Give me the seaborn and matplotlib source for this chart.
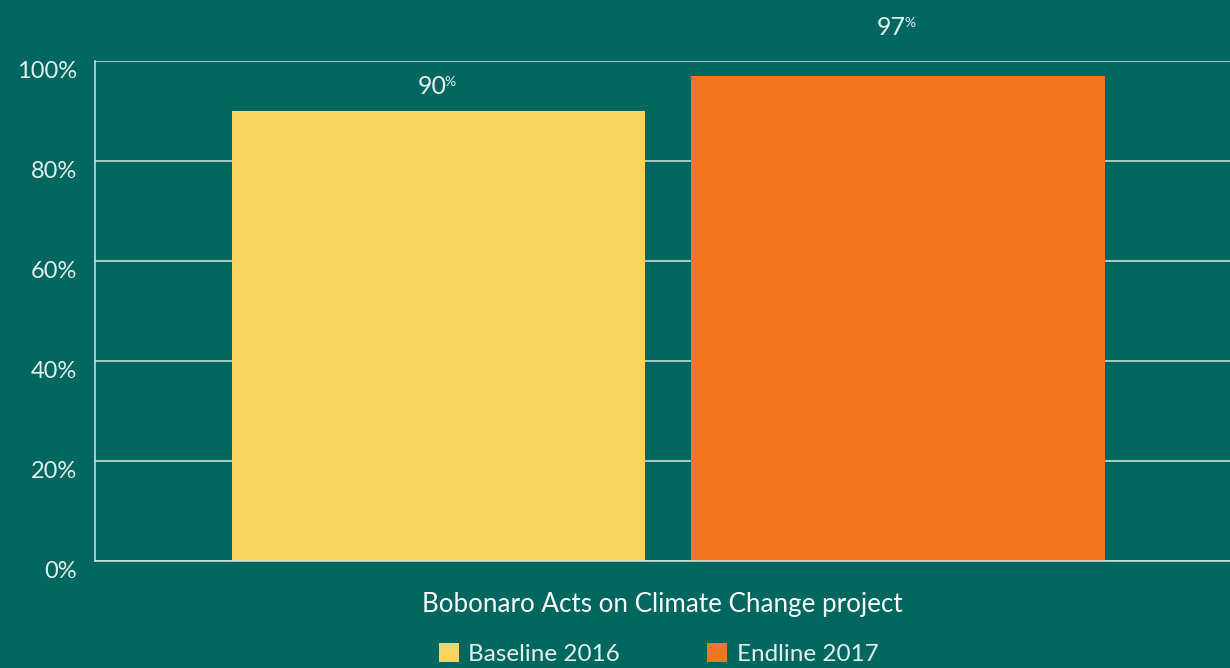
import matplotlib
matplotlib.use("Agg")
import matplotlib.pyplot as plt
import matplotlib.patches as mpatches
import matplotlib.transforms as mtrans
import seaborn as sns
import pandas as pd

# ---- data ----
project = ["Bobonaro Acts on Climate Change project"]
periods = ["Baseline 2016", "Endline 2017"]
values = [90, 97]
value_labels = ["90", "97"]
yticks = [0, 20, 40, 60, 80, 100]
ytick_labels = ["0%", "20%", "40%", "60%", "80%", "100%"]

# ---- style ----
BG = "#006660"
COLORS = ["#FCD462", "#F47521"]
TXT = "#E4F0EE"
GRID = "#D5E6E3"
FONT = ["Lato", "DejaVu Sans"]

sns.set_theme(style="white")
plt.rcParams["font.family"] = FONT

df = pd.DataFrame({"project": project * len(periods), "period": periods, "value": values})

fig = plt.figure(figsize=(12.3, 6.68), dpi=100, facecolor=BG)
ax = fig.add_axes([95 / 1230, 1 - 561 / 668, 1 - 95 / 1230, (561 - 61) / 668])
ax.set_facecolor(BG)

sns.barplot(data=df, x="project", y="value", hue="period", palette=COLORS,
            width=1.0, gap=0.1, legend=False, ax=ax, saturation=1, linewidth=0)

ax.set_xlim(-0.6238, 0.6113)
ax.set_ylim(0, 100)
ax.set_yticks(yticks)
ax.set_yticklabels(ytick_labels, fontsize=17, color=TXT)
ax.tick_params(axis="y", length=0, pad=13)
shift = mtrans.ScaledTranslation(0, -9 / 100, fig.dpi_scale_trans)
for lbl in ax.get_yticklabels():
    lbl.set_transform(lbl.get_transform() + shift)
ax.set_xticks([])
ax.set_xlabel(project[0], fontsize=18.7, color="white", labelpad=22)
ax.set_ylabel("")

ax.yaxis.grid(True, color=GRID, linewidth=1.1)
ax.set_axisbelow(True)
for s in ["top", "right"]:
    ax.spines[s].set_visible(False)
for s in ["left", "bottom"]:
    ax.spines[s].set_color(GRID)
    ax.spines[s].set_linewidth(1.1)

# value labels
offsets = [12.2, 29.5]
for bar, lab, off in zip(ax.patches, value_labels, offsets):
    cx = bar.get_x() + bar.get_width() / 2
    t = ax.annotate(lab, xy=(cx, bar.get_height()), xytext=(-4.5, off),
                    textcoords="offset points", ha="center", va="baseline",
                    fontsize=18, color=TXT, annotation_clip=False)
    ax.annotate("%", xy=(1.0, 1.0), xycoords=t, xytext=(-1.5, -1), textcoords="offset points",
                ha="left", va="top", fontsize=10, color=TXT)

handles = [mpatches.Patch(facecolor=c, edgecolor="none", label=p) for c, p in zip(COLORS, periods)]
leg = fig.legend(handles=handles, loc="center", bbox_to_anchor=(658.5 / 1230, 1 - 654 / 668),
                 ncol=2, frameon=False, fontsize=17.5, handlelength=0.83, handleheight=0.83,
                 handletextpad=0.38, columnspacing=3.6, borderpad=0)
for t in leg.get_texts():
    t.set_color(TXT)

fig.savefig("out.png", dpi=100, facecolor=BG)
